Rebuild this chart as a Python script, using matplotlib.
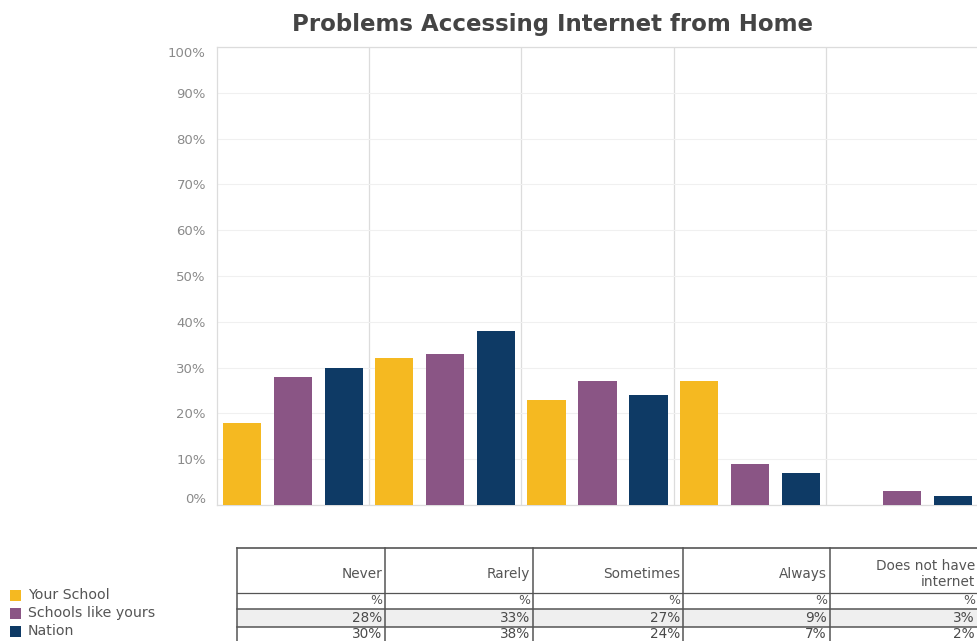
import matplotlib
matplotlib.use("Agg")
import matplotlib.pyplot as plt
import matplotlib.transforms as mtransforms
from matplotlib.lines import Line2D
from matplotlib.patches import Rectangle
import numpy as np

# ---- data ----
categories = ["Never", "Rarely", "Sometimes", "Always", "Does not have internet"]
table_headers = ["Never", "Rarely", "Sometimes", "Always", "Does not have\ninternet"]
series_names = ["Your School", "Schools like yours", "Nation"]
your_school = [18, 32, 23, 27, 0]
schools_like_yours = [28, 33, 27, 9, 3]
nation = [30, 38, 24, 7, 2]
your_school_table = ["%", "%", "%", "%", "%"]
y_ticks = [0, 10, 20, 30, 40, 50, 60, 70, 80, 90, 100]
y_tick_labels = [f"{v}%" for v in y_ticks]
title = "Problems Accessing Internet from Home"

colors = ["#F5B921", "#8A5585", "#0E3A65"]

W, H = 978, 641
fig = plt.figure(figsize=(W / 100, H / 100), dpi=100)
fig.patch.set_facecolor("white")

def fx(x):
    return x / W

def fy(y):
    return 1 - y / H

ax = fig.add_axes([fx(217), fy(505), fx(978) - fx(217), fy(47) - fy(505)])
x = np.arange(len(categories))
offsets = [-0.335, 0.0, 0.335]
for vals, off, c, name in zip([your_school, schools_like_yours, nation], offsets, colors, series_names):
    ax.bar(x + off, vals, width=0.25, color=c, label=name, zorder=3)

ax.set_xlim(-0.5, len(categories) - 0.5)
ax.set_ylim(0, 100)
ax.set_yticks(y_ticks)
ax.set_yticklabels(y_tick_labels)
ax.set_xticks([])
ax.tick_params(axis="y", length=0, pad=8, labelsize=9.5, labelcolor="#8a8a8a")
ax.grid(axis="y", color="#f0f0f0", linewidth=0.8, zorder=0)
for b in np.arange(0.5, len(categories) - 0.5, 1.0):
    ax.axvline(b, color="#dcdcdc", linewidth=0.9, zorder=1)
for s in ["left", "top", "bottom"]:
    ax.spines[s].set_color("#dcdcdc")
    ax.spines[s].set_linewidth(0.9)
ax.spines["right"].set_visible(False)

labels = ax.get_yticklabels()
labels[0].set_transform(labels[0].get_transform() + mtransforms.ScaledTranslation(0, 7 / 100, fig.dpi_scale_trans))
labels[-1].set_transform(labels[-1].get_transform() + mtransforms.ScaledTranslation(0, -5 / 100, fig.dpi_scale_trans))

fig.text(fx(553), fy(25), title, ha="center", va="center", fontsize=16.5,
         fontweight="bold", color="#444444")

# ---- legend ----
leg_y = [595, 613, 631]
for yy, c, name in zip(leg_y, colors, series_names):
    fig.add_artist(Rectangle((fx(10), fy(yy + 5.5)), fx(11), fy(yy - 5.5) - fy(yy + 5.5),
                             facecolor=c, edgecolor="none", transform=fig.transFigure))
    fig.text(fx(28), fy(yy), name, ha="left", va="center", fontsize=10.2, color="#555555")

# ---- table ----
col_edges = [237, 385, 533, 683, 830, 978]
top, head_bot, r1_bot, r2_bot, bottom = 548, 593, 609, 627, 641
line_c = "#555555"
fig.add_artist(Rectangle((fx(237), fy(r2_bot)), fx(978) - fx(237), fy(r1_bot) - fy(r2_bot),
                         facecolor="#efefef", edgecolor="none", transform=fig.transFigure))

def hline(y, x0=237, x1=978, lw=1.0, c=line_c):
    fig.add_artist(Line2D([fx(x0), fx(x1)], [fy(y), fy(y)], color=c, lw=lw, transform=fig.transFigure))

def vline(xp, y0=top, y1=bottom, lw=1.0, c=line_c):
    fig.add_artist(Line2D([fx(xp), fx(xp)], [fy(y0), fy(y1)], color=c, lw=lw, transform=fig.transFigure))

hline(top, lw=1.2)
hline(head_bot, lw=0.9)
hline(r1_bot, lw=1.1)
hline(r2_bot, lw=1.1)
for xp in col_edges[:-1]:
    vline(xp, lw=1.1)

for i in range(len(categories)):
    xr = col_edges[i + 1] - 3
    fig.text(fx(xr), fy(574), table_headers[i], ha="right", va="center", fontsize=9.8,
             color="#555555", linespacing=1.25)
    fig.text(fx(xr), fy(601), your_school_table[i], ha="right", va="center", fontsize=9,
             color="#555555")
    fig.text(fx(xr), fy(618.5), f"{schools_like_yours[i]}%", ha="right", va="center", fontsize=9.8,
             color="#4a4a4a")
    fig.text(fx(xr), fy(634.5), f"{nation[i]}%", ha="right", va="center", fontsize=9.8,
             color="#4a4a4a")

fig.savefig("out.png", dpi=100, facecolor="white")
